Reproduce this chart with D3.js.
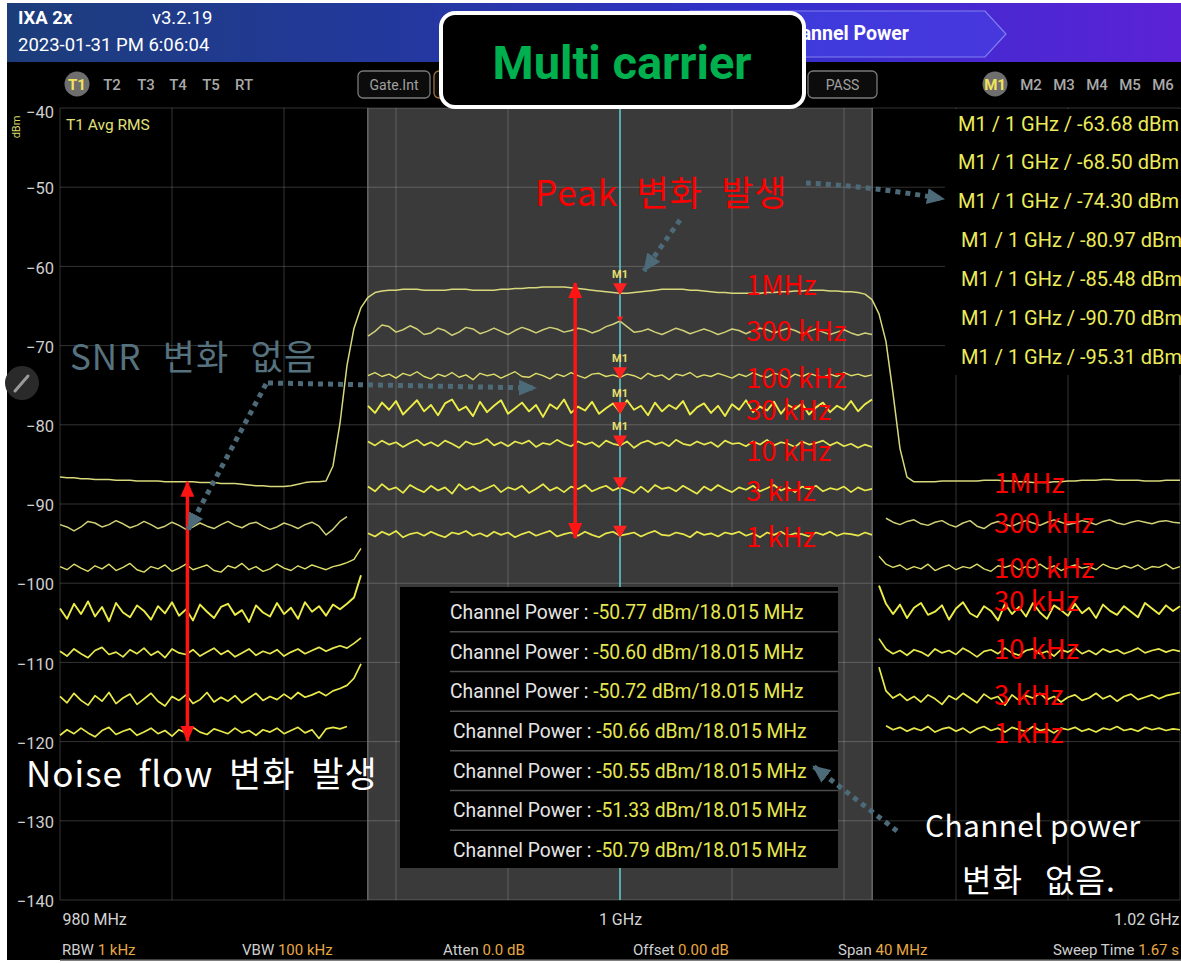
<!DOCTYPE html>
<html>
<head>
<meta charset="utf-8">
<script src="https://d3js.org/d3.v7.min.js"></script>
<style>
body { margin: 0; background: #fff; }
svg { display: block; }
text { font-family: Roboto, "Noto Sans", sans-serif; }
.kr { font-family: "Noto Sans CJK KR", "Noto Sans", sans-serif; }
</style>
</head>
<body>
<svg id="chart" width="1181" height="963"></svg>
<script>
// ---- data -------------------------------------------------------------
const freqStart = 980, freqStop = 1020, freqStep = 0.25;   // MHz, 161 sweep points
const chanCenter = 1000, chanWidth = 18.015;                 // MHz
const yTicks = [-40, -50, -60, -70, -80, -90, -100, -110, -120, -130, -140];
const xTicks = [980, 984, 988, 992, 996, 1000, 1004, 1008, 1012, 1016, 1020];
const xTickLabels = ["980 MHz", "1 GHz", "1.02 GHz"];

const rbwLabels = ["1MHz", "300 kHz", "100 kHz", "30 kHz", "10 kHz", "3 kHz", "1 kHz"];
const markerReadings = [-63.68, -68.50, -74.30, -80.97, -85.48, -90.70, -95.31];
const channelPowers = [-50.77, -50.60, -50.72, -50.66, -50.55, -51.33, -50.79];

const trace1M = [
  -86.6,-86.7,-86.7,-86.8,-86.8,-86.9,-86.9,-86.9,-87.0,-87.0,
  -87.0,-87.1,-87.1,-87.1,-87.1,-87.2,-87.2,-87.2,-87.2,-87.2,
  -87.3,-87.3,-87.3,-87.4,-87.4,-87.4,-87.5,-87.6,-87.7,-87.7,
  -87.8,-87.8,-87.8,-87.7,-87.5,-87.3,-87.2,-87.2,
  -87.1,-85.2,-79.8,-72.5,-67.8,-65.2,-63.9,-63.3,
  -63.1,-63.0,-63.0,-62.9,-62.9,-62.9,-63.0,-63.0,-63.0,-63.0,-62.9,-62.9,-62.9,-63.0,-63.0,
  -63.0,-63.0,-62.9,-62.9,-62.8,-62.8,-62.7,-62.7,-62.6,-62.6,-62.6,-62.6,-62.7,-62.8,-62.9,
  -63.0,-63.1,-63.2,-63.3,-63.4,-63.4,-63.3,-63.2,-63.1,-63.0,-62.9,-62.9,-62.9,-62.9,-63.0,
  -63.0,-63.1,-63.2,-63.3,-63.3,-63.4,-63.4,-63.4,-63.4,-63.4,-63.3,-63.3,-63.2,-63.2,-63.1,
  -63.1,-63.0,-63.0,-63.0,-63.1,-63.1,-63.2,-63.2,-63.3,-63.5,
  -64.2,-66.0,-69.5,-76.0,-83.0,-86.6,-87.2,
  -87.2,-87.2,-87.2,-87.1,-87.1,-87.1,-87.1,-87.1,-87.1,-87.0,
  -87.0,-87.0,-87.1,-87.1,-87.2,-87.2,-87.3,-87.3,-87.3,-87.2,
  -87.2,-87.1,-87.1,-87.0,-87.0,-87.0,-86.9,-86.9,-87.0,-87.0,
  -87.0,-87.0,-87.1,-87.1,-87.1,-87.0,-87.0,-87.0
];

const trace300k = [
  -92.6,-92.9,-93.4,-92.9,-92.2,-92.4,-92.9,-92.6,-92.1,-92.5,
  -93.0,-92.7,-92.2,-92.6,-93.1,-92.8,-92.3,-92.7,-93.2,-92.9,
  -92.4,-92.8,-93.1,-92.6,-92.2,-92.7,-93.0,-92.5,-92.3,-92.8,
  -93.2,-92.9,-92.4,-92.7,-93.1,-92.6,-92.3,-92.8,-93.9,-93.2,
  -92.2,-91.6,null,null,
  -68.8,-68.2,-67.4,-67.6,-68.3,-68.0,-67.5,-67.9,-68.6,-68.4,
  -67.8,-68.1,-68.7,-68.3,-67.7,-67.9,-68.5,-68.2,-67.8,-68.2,
  -68.6,-68.1,-67.7,-68.0,-68.4,-68.0,-67.7,-67.9,-68.3,-68.1,
  -67.8,-68.0,-68.4,-68.1,-67.6,-67.3,-66.9,-67.6,-68.3,-68.2,
  -67.9,-68.3,-68.6,-68.2,-67.8,-68.1,-68.5,-68.2,-67.9,-68.2,
  -68.6,-68.3,-67.9,-68.1,-68.5,-68.1,-67.8,-68.0,-68.4,-68.1,
  -67.8,-68.1,-68.5,-68.2,-67.9,-68.3,-68.6,-68.3,-68.0,-68.4,
  -68.7,-68.4,-68.6,
  null,
  -91.8,-92.3,-92.6,-92.2,-92.0,-92.5,-92.7,-92.3,-92.1,-92.6,
  -92.9,-92.4,-92.1,-92.8,-93.1,-92.5,-92.2,-92.6,-92.8,-92.4,
  -92.1,-92.4,-92.7,-92.3,-92.0,-92.3,-92.6,-92.4,-92.1,-92.3,
  -92.6,-92.2,-92.0,-92.4,-92.6,-92.3,-92.1,-92.3,-92.5,-92.2,
  -92.1,-92.3,-92.4
];

const trace100k = [
  -97.9,-98.3,-97.6,-98.1,-98.5,-97.8,-98.2,-97.6,-98.4,-98.0,
  -97.5,-98.3,-98.6,-97.9,-98.2,-97.7,-98.5,-98.1,-97.6,-98.3,
  -98.0,-97.7,-98.4,-98.6,-97.8,-98.1,-97.5,-98.3,-97.9,-98.5,
  -98.2,-97.6,-98.1,-98.4,-97.8,-98.2,-97.7,-98.0,-98.3,-97.9,
  -97.7,-97.4,-97.0,-95.6,
  -73.8,-73.4,-73.9,-73.6,-74.1,-73.5,-73.8,-73.3,-73.9,-74.2,
  -73.6,-73.9,-73.4,-74.0,-73.7,-74.3,-73.5,-73.8,-73.6,-74.1,
  -73.7,-73.3,-73.9,-74.0,-73.5,-73.8,-74.2,-73.6,-73.9,-73.4,
  -73.8,-74.1,-73.6,-73.5,-73.9,-73.7,-74.0,-73.6,-73.8,-74.2,
  -73.5,-73.9,-73.7,-74.3,-73.6,-73.8,-73.4,-74.0,-73.7,-73.9,
  -73.5,-73.8,-74.1,-73.6,-73.9,-73.4,-73.8,-74.0,-73.5,-73.7,
  -74.2,-73.6,-73.9,-73.5,-73.8,-74.0,-73.6,-73.9,-73.4,-73.8,
  -73.6,-73.9,-73.7,
  -96.6,-97.6,-98.0,-97.7,-98.3,-97.9,-98.2,-97.6,-98.4,-98.0,
  -97.7,-98.3,-97.9,-98.1,-97.6,-98.2,-98.5,-97.8,-98.0,-97.7,
  -98.3,-97.9,-98.1,-97.6,-98.2,-97.8,-98.4,-98.0,-97.7,-98.1,
  -97.9,-98.3,-97.6,-98.0,-98.2,-97.8,-98.1,-97.7,-98.3,-97.9,
  -98.0,-97.6,-98.2,-97.9
];

const trace30k = [
  -103.2,-104.5,-102.6,-103.9,-102.3,-104.2,-103.0,-104.8,-102.5,-103.7,
  -104.3,-102.8,-103.5,-104.6,-102.9,-103.8,-102.4,-104.1,-103.3,-104.7,
  -102.7,-103.6,-104.4,-103.0,-102.6,-104.0,-103.4,-104.9,-102.8,-103.7,
  -104.2,-102.5,-103.9,-103.1,-104.5,-102.4,-103.6,-102.9,-104.1,-102.7,
  -103.3,-102.6,-101.8,-99.0,
  -77.6,-78.5,-77.2,-78.1,-77.0,-78.7,-77.8,-76.9,-78.3,-77.5,
  -78.8,-77.3,-76.8,-78.2,-77.7,-78.9,-77.1,-78.4,-77.6,-76.9,
  -78.6,-77.9,-77.2,-78.3,-77.5,-79.0,-77.4,-78.0,-76.8,-78.5,
  -77.7,-78.2,-77.1,-78.6,-77.9,-77.3,-78.4,-76.9,-78.1,-77.6,
  -78.8,-77.2,-78.3,-77.5,-78.0,-77.0,-78.7,-77.8,-77.3,-78.5,
  -77.6,-78.9,-77.4,-78.1,-76.9,-78.4,-77.7,-78.2,-77.1,-78.6,
  -77.5,-78.0,-77.3,-78.7,-77.8,-77.2,-78.4,-77.6,-78.1,-77.0,
  -78.3,-77.4,-76.8,
  -100.3,-102.6,-103.9,-102.7,-104.4,-103.1,-102.5,-104.0,-103.6,-102.8,
  -104.6,-103.2,-102.4,-103.8,-104.3,-102.9,-103.5,-104.7,-102.6,-103.9,
  -103.0,-104.2,-102.5,-103.7,-104.5,-102.8,-103.4,-104.1,-102.6,-103.8,
  -103.1,-104.4,-102.7,-103.5,-104.0,-102.9,-103.6,-104.3,-102.5,-103.2,
  -103.9,-102.8,-103.5,-102.9
];

const trace10k = [
  -108.6,-109.2,-108.3,-108.9,-109.4,-108.5,-108.1,-109.0,-108.7,-109.3,
  -108.4,-108.9,-108.2,-109.1,-108.6,-109.4,-108.3,-108.8,-109.0,-108.4,
  -109.2,-108.7,-108.2,-109.0,-108.5,-109.3,-108.8,-108.3,-109.1,-108.6,
  -108.9,-108.4,-109.2,-108.7,-108.3,-108.9,-108.5,-108.1,-108.6,-108.2,
  -107.9,-108.2,-107.6,-106.9,
  -82.1,-82.6,-82.0,-82.5,-82.2,-82.8,-82.3,-81.9,-82.6,-82.2,
  -82.7,-82.0,-82.4,-82.9,-82.1,-82.5,-82.3,-81.8,-82.6,-82.2,
  -82.7,-82.1,-82.4,-82.0,-82.8,-82.3,-82.5,-81.9,-82.4,-82.7,
  -82.1,-82.5,-82.2,-82.8,-82.0,-82.4,-82.6,-82.1,-82.9,-82.3,
  -82.0,-82.5,-82.2,-82.7,-81.9,-82.4,-82.6,-82.1,-82.5,-82.2,
  -82.8,-82.0,-82.4,-82.3,-82.7,-82.1,-82.5,-81.9,-82.6,-82.2,
  -82.4,-82.8,-82.1,-82.5,-82.3,-82.0,-82.6,-82.2,-82.7,-82.4,
  -82.9,-82.5,-82.8,
  -107.0,-108.3,-108.9,-108.5,-109.1,-108.4,-108.7,-109.2,-108.3,-108.8,
  -108.5,-109.0,-108.2,-108.7,-109.3,-108.6,-108.4,-108.9,-108.2,-108.8,
  -109.1,-108.5,-108.3,-108.9,-108.6,-109.2,-108.4,-108.7,-108.2,-108.9,
  -108.5,-109.0,-108.3,-108.7,-108.4,-108.9,-108.6,-108.2,-108.8,-108.5,
  -108.3,-108.7,-108.4,-108.6
];

const trace3k = [
  -114.3,-115.1,-113.9,-114.8,-115.4,-114.2,-114.9,-113.8,-115.2,-114.5,
  -114.0,-115.3,-114.6,-113.9,-114.9,-115.5,-114.3,-114.8,-114.1,-115.2,
  -114.7,-113.8,-115.0,-114.4,-114.9,-114.2,-115.1,-114.5,-113.9,-114.8,
  -114.3,-114.7,-114.0,-114.6,-113.8,-114.4,-114.1,-113.7,-114.2,-113.6,
  -113.3,-112.9,-112.0,-110.2,
  -87.8,-88.4,-87.5,-88.2,-87.9,-88.6,-87.6,-88.1,-88.5,-87.7,
  -88.3,-87.9,-88.7,-87.5,-88.2,-87.8,-88.4,-88.0,-87.6,-88.5,
  -87.9,-88.2,-87.7,-88.6,-88.1,-87.5,-88.3,-87.9,-88.5,-87.8,
  -88.1,-87.6,-88.4,-88.0,-87.7,-88.3,-87.9,-88.2,-88.6,-87.8,
  -88.5,-87.6,-88.1,-87.9,-88.4,-87.7,-88.2,-88.7,-87.8,-88.3,
  -87.6,-88.1,-88.5,-87.9,-88.2,-87.7,-88.4,-88.0,-87.6,-88.3,
  -87.9,-88.5,-87.8,-88.1,-87.7,-88.4,-88.0,-88.2,-87.8,-88.5,
  -87.9,-88.3,-88.1,
  -110.6,-113.6,-114.5,-114.0,-114.8,-114.3,-115.0,-114.1,-114.6,-115.3,
  -114.2,-114.7,-113.9,-114.5,-115.1,-114.0,-114.6,-114.3,-115.4,-114.1,
  -114.8,-114.2,-114.5,-113.9,-114.7,-114.3,-115.0,-114.4,-114.1,-114.8,
  -114.5,-113.9,-114.6,-114.2,-114.9,-114.3,-114.0,-114.7,-114.4,-114.1,
  -114.6,-114.2,-114.0,-113.8
];

const trace1k = [
  -119.2,-118.5,-119.0,-118.3,-118.9,-119.4,-118.6,-118.2,-119.1,-118.7,
  -118.4,-119.2,-118.8,-118.3,-119.0,-118.6,-119.3,-118.5,-118.9,-118.2,
  -118.8,-119.1,-118.4,-118.7,-119.0,-118.3,-118.9,-118.6,-119.2,-118.5,
  -118.8,-118.3,-119.0,-118.6,-118.2,-118.9,-118.5,-119.6,-118.4,-118.2,
  -118.4,-118.1,null,null,
  -93.7,-94.1,-93.5,-93.9,-93.4,-94.2,-93.8,-93.6,-94.0,-93.5,
  -93.9,-94.2,-93.6,-93.8,-93.4,-94.0,-93.7,-94.1,-93.5,-93.9,
  -93.6,-94.2,-93.8,-93.5,-94.0,-93.7,-93.4,-94.1,-93.8,-93.6,
  -94.0,-93.5,-93.9,-94.2,-93.7,-93.5,-94.0,-93.8,-93.6,-94.1,
  -93.7,-93.4,-93.9,-94.0,-93.6,-93.8,-94.2,-93.5,-93.9,-93.7,
  -94.1,-93.6,-93.8,-93.5,-94.0,-93.7,-94.2,-93.6,-93.9,-93.5,
  -94.0,-93.7,-93.8,-94.1,-93.6,-93.9,-93.5,-94.0,-93.7,-93.8,
  -94.0,-93.6,-93.9,
  null,-118.0,-118.5,-118.2,-118.7,-118.3,-118.6,-118.1,-118.8,-118.4,
  -118.2,-118.7,-118.3,-118.9,-118.4,-118.1,-118.6,-118.3,-118.8,-118.2,
  -118.5,-118.7,-118.1,-118.6,-118.4,-118.9,-118.3,-118.5,-118.2,-118.7,
  -118.4,-118.8,-118.3,-118.5,-118.1,-118.6,-118.4,-118.7,-118.2,-118.5,
  -118.3,-118.6,-118.4,-118.5
];

// ---- setup ------------------------------------------------------------
const svg = d3.select("#chart");
const W = 1181, H = 963;
const plot = { left: 60, right: 1180, top: 108, bottom: 900 };

const x = d3.scaleLinear().domain([freqStart, freqStop]).range([plot.left, plot.right]);
const y = d3.scaleLinear().domain([-140, -40]).range([plot.bottom, plot.top]);

const defs = svg.append("defs");
const grad = defs.append("linearGradient").attr("id", "hdr").attr("x1", 0).attr("x2", 1);
grad.append("stop").attr("offset", "0%").attr("stop-color", "#1c3d7a");
grad.append("stop").attr("offset", "35%").attr("stop-color", "#2438a0");
grad.append("stop").attr("offset", "65%").attr("stop-color", "#3430cc");
grad.append("stop").attr("offset", "100%").attr("stop-color", "#5c22d6");

function arrowDef(id, color, len, wid, orient) {
  defs.append("marker").attr("id", id)
    .attr("markerUnits", "userSpaceOnUse")
    .attr("markerWidth", len).attr("markerHeight", wid)
    .attr("refX", len - 1).attr("refY", wid / 2)
    .attr("orient", orient)
    .append("path")
    .attr("d", `M0,0 L${len},${wid / 2} L0,${wid} Z`)
    .attr("fill", color);
}
arrowDef("ahSlate", "#4d6a78", 18, 16, "auto");
arrowDef("ahRed", "#ff1414", 16, 14, "auto-start-reverse");

svg.append("rect").attr("width", W).attr("height", H).attr("fill", "#fff");
svg.append("rect").attr("x", 7).attr("y", 3).attr("width", W - 7).attr("height", 957).attr("fill", "#000");

// ---- header -----------------------------------------------------------
svg.append("rect").attr("x", 7).attr("y", 3).attr("width", W - 7).attr("height", 59).attr("fill", "url(#hdr)");
svg.append("polygon")
  .attr("points", "690,11 985,11 1006,34 985,57 690,57")
  .attr("fill", "#4545e8").attr("fill-opacity", 0.55)
  .attr("stroke", "#8080f0").attr("stroke-width", 1.2);
svg.append("text").attr("x", 777).attr("y", 40).attr("fill", "#fff")
  .attr("font-size", 19.5).attr("font-weight", 700).text("Channel Power");

svg.append("text").attr("x", 18).attr("y", 24).attr("fill", "#fff")
  .attr("font-size", 18.5).attr("font-weight", 700).text("IXA 2x");
svg.append("text").attr("x", 152).attr("y", 24).attr("fill", "#fff")
  .attr("font-size", 18.5).text("v3.2.19");
svg.append("text").attr("x", 18).attr("y", 51).attr("fill", "#fff")
  .attr("font-size", 18.5).text("2023-01-31 PM 6:06:04");

// trace / marker selector rows
const tNames = ["T1", "T2", "T3", "T4", "T5", "RT"];
const tPos = [77, 112, 146, 178, 211, 244];
const mNames = ["M1", "M2", "M3", "M4", "M5", "M6"];
const mPos = [995, 1031, 1064, 1097, 1130, 1163];
function selector(names, pos) {
  names.forEach((n, i) => {
    if (i === 0) {
      svg.append("circle").attr("cx", pos[i]).attr("cy", 84).attr("r", 12.5).attr("fill", "#6e6e6e");
    }
    svg.append("text").attr("x", pos[i]).attr("y", 89.5).attr("text-anchor", "middle")
      .attr("font-size", 15).attr("font-weight", i === 0 ? 700 : 500)
      .attr("fill", i === 0 ? "#f2e35a" : "#a9a9a9").text(n);
  });
}
selector(tNames, tPos);
selector(mNames, mPos);

function button(x0, w, label, stroke) {
  svg.append("rect").attr("x", x0).attr("y", 71).attr("width", w).attr("height", 27)
    .attr("rx", 5).attr("fill", "#0c0c0c").attr("stroke", stroke).attr("stroke-width", 1.3);
  if (label) {
    svg.append("text").attr("x", x0 + w / 2).attr("y", 89.5).attr("text-anchor", "middle")
      .attr("font-size", 14).attr("fill", "#a0a0a0").text(label);
  }
}
button(358, 72, "Gate.Int", "#7a7a7a");
button(434, 60, null, "#a0703a");
button(808, 69, "PASS", "#7a7a7a");

// ---- plot area --------------------------------------------------------
const plotG = svg.append("g");
const bandL = x(chanCenter - chanWidth / 2), bandR = x(chanCenter + chanWidth / 2);
plotG.append("rect").attr("x", bandL).attr("y", plot.top)
  .attr("width", bandR - bandL).attr("height", plot.bottom - plot.top).attr("fill", "#3a3a3a");

plotG.selectAll(".hg").data(yTicks).join("line")
  .attr("x1", plot.left).attr("x2", plot.right)
  .attr("y1", d => y(d)).attr("y2", d => y(d))
  .attr("stroke", "#fff").attr("stroke-opacity", 0.2);
plotG.selectAll(".vg").data(xTicks).join("line")
  .attr("x1", d => x(d)).attr("x2", d => x(d))
  .attr("y1", plot.top).attr("y2", plot.bottom)
  .attr("stroke", "#fff").attr("stroke-opacity", 0.2);
[bandL, bandR].forEach(bx => {
  plotG.append("line").attr("x1", bx).attr("x2", bx).attr("y1", plot.top).attr("y2", plot.bottom)
    .attr("stroke", "#777").attr("stroke-width", 1.2);
});

// center frequency line
plotG.append("line").attr("x1", x(chanCenter)).attr("x2", x(chanCenter))
  .attr("y1", plot.top).attr("y2", plot.bottom)
  .attr("stroke", "#58c4c8").attr("stroke-width", 1.6);

// axes
const yAxis = svg.append("g").attr("transform", `translate(${plot.left},0)`)
  .call(d3.axisLeft(y).tickValues(yTicks).tickSize(0).tickPadding(6));
yAxis.select(".domain").remove();
yAxis.selectAll("text").attr("font-size", 16.5).attr("fill", "#cfcfcf")
  .attr("font-family", "Roboto, sans-serif")
  .attr("dy", d => d === -40 ? "0.55em" : "0.4em");

const xAxis = svg.append("g").attr("transform", `translate(0,${plot.bottom})`)
  .call(d3.axisBottom(x).tickValues([freqStart, chanCenter, freqStop]).tickSize(0).tickPadding(14)
    .tickFormat((d, i) => xTickLabels[i]));
xAxis.select(".domain").remove();
xAxis.selectAll("text").attr("font-size", 16).attr("fill", "#d4d4d4")
  .attr("font-family", "Roboto, sans-serif")
  .attr("text-anchor", (d, i) => i === 0 ? "start" : (i === 2 ? "end" : "middle"))
  .attr("dx", (d, i) => i === 0 ? 2 : (i === 2 ? -1 : 0));

svg.append("text").attr("transform", "translate(20,127) rotate(-90)")
  .attr("text-anchor", "middle").attr("font-size", 11).attr("fill", "#d8d86a").text("dBm");
svg.append("text").attr("x", 66).attr("y", 130).attr("font-size", 15.5)
  .attr("fill", "#e0e07a").text("T1 Avg RMS");

// ---- traces -----------------------------------------------------------
const traces = [
  { values: trace1M,   split: false, width: 1.5, color: "#d8d87c" },
  { values: trace300k, split: true,  width: 1.5, color: "#d0d078" },
  { values: trace100k, split: true,  width: 1.4, color: "#dede6a" },
  { values: trace30k,  split: true,  width: 1.9, color: "#eded48" },
  { values: trace10k,  split: true,  width: 1.7, color: "#e8e850" },
  { values: trace3k,   split: true,  width: 1.7, color: "#eaea4a" },
  { values: trace1k,   split: true,  width: 1.7, color: "#e8e84c" }
];
// first sweep point inside the channel and first point past it
const bandStartIdx = Math.ceil((chanCenter - chanWidth / 2 - freqStart) / freqStep);      // 44
const bandEndIdx = Math.floor((chanCenter + chanWidth / 2 - freqStart) / freqStep) + 1;   // 117
const line = d3.line()
  .defined(d => d.v != null)
  .x(d => x(d.f)).y(d => y(d.v));

const traceG = svg.append("g").attr("fill", "none").attr("stroke-linejoin", "round");
traces.forEach(t => {
  const pts = t.values.map((v, i) => ({
    f: freqStart + i * freqStep, v: v,
    s: !t.split ? 0 : (i < bandStartIdx ? 0 : (i < bandEndIdx ? 1 : 2))
  }));
  d3.groups(pts, d => d.s).forEach(([, seg]) => {
    traceG.append("path").attr("d", line(seg))
      .attr("stroke", t.color).attr("stroke-width", t.width);
  });
});

// markers at the center frequency
const centerIdx = Math.round((chanCenter - freqStart) / freqStep);
const mkG = svg.append("g");
traces.forEach((t, i) => {
  const cx = x(chanCenter), cy = y(t.values[centerIdx]);
  const s = i === 1 ? 0.45 : 1;
  mkG.append("path")
    .attr("d", `M${cx - 7 * s},${cy - 10 * s} L${cx + 7 * s},${cy - 10 * s} L${cx},${cy + 2 * s} Z`)
    .attr("fill", "#ff2020");
  if ([0, 2, 3, 4].includes(i)) {
    mkG.append("text").attr("x", cx).attr("y", cy - 15).attr("text-anchor", "middle")
      .attr("font-size", 11).attr("font-weight", 700).attr("fill", "#e8e070").text("M1");
  }
});

// ---- marker readout table --------------------------------------------
const mRows = d3.scaleBand().domain(d3.range(markerReadings.length)).range([104, 376]);
svg.append("rect").attr("x", 945).attr("y", plot.top + 1).attr("width", W - 945).attr("height", 266).attr("fill", "#000");
svg.selectAll(".mrow").data(markerReadings).join("text")
  .attr("x", (d, i) => i < 3 ? 958 : 961)
  .attr("y", (d, i) => mRows(i) + mRows.bandwidth() / 2)
  .attr("dy", "0.36em").attr("font-size", 20).attr("fill", "#ecec5a")
  .text(d => `M1 / 1 GHz / ${d.toFixed(2)} dBm`);

// ---- channel power table ---------------------------------------------
const cRows = d3.scaleBand().domain(d3.range(channelPowers.length)).range([592, 870]);
svg.append("rect").attr("x", 400).attr("y", 587).attr("width", 438).attr("height", 281).attr("fill", "#000");
svg.selectAll(".csep").data(channelPowers).join("line")
  .attr("x1", 450).attr("x2", 838)
  .attr("y1", (d, i) => cRows(i)).attr("y2", (d, i) => cRows(i))
  .attr("stroke", "#4a4a4a").attr("stroke-width", 1.5);
const cText = svg.selectAll(".crow").data(channelPowers).join("text")
  .attr("x", (d, i) => i < 3 ? 450 : 453)
  .attr("y", (d, i) => cRows(i) + cRows.bandwidth() / 2)
  .attr("dy", "0.36em").attr("font-size", 19.3);
cText.append("tspan").attr("fill", "#e6e6e6").text("Channel Power : ");
cText.append("tspan").attr("fill", "#e6e650").text(d => `${d.toFixed(2)} dBm/18.015 MHz`);

// ---- bottom settings bar ---------------------------------------------
const settings = [
  ["RBW ", "1 kHz", 62, "start"], ["VBW ", "100 kHz", 242, "start"], ["Atten ", "0.0 dB", 443, "start"],
  ["Offset ", "0.00 dB", 633, "start"], ["Span ", "40 MHz", 838, "start"], ["Sweep Time ", "1.67 s", 1179, "end"]
];
const sText = svg.selectAll(".set").data(settings).join("text")
  .attr("x", d => d[2]).attr("y", 955).attr("text-anchor", d => d[3]).attr("font-size", 15);
sText.append("tspan").attr("fill", "#cfcfcf").text(d => d[0]);
sText.append("tspan").attr("fill", "#e8a843").text(d => d[1]);
svg.append("line").attr("x1", 60).attr("x2", W).attr("y1", 960).attr("y2", 960)
  .attr("stroke", "#555").attr("stroke-width", 1.5);

// edit (pencil) button
svg.append("circle").attr("cx", 22).attr("cy", 383).attr("r", 17).attr("fill", "#2a2a2a");
svg.append("line").attr("x1", 15).attr("y1", 391).attr("x2", 28).attr("y2", 376)
  .attr("stroke", "#9a9a9a").attr("stroke-width", 3).attr("stroke-linecap", "round");

// ---- annotations ------------------------------------------------------
const ann = svg.append("g");

// title box
ann.append("rect").attr("x", 441).attr("y", 13).attr("width", 363).attr("height", 94)
  .attr("rx", 14).attr("fill", "#000").attr("stroke", "#fff").attr("stroke-width", 4);
ann.append("text").attr("x", 622).attr("y", 79).attr("text-anchor", "middle")
  .attr("font-family", "'Open Sans', sans-serif").attr("font-weight", 700)
  .attr("font-size", 47).attr("fill", "#00b04f").text("Multi carrier");

// red level-change arrows
ann.append("line")
  .attr("x1", x(998.4)).attr("x2", x(998.4)).attr("y1", y(-62.1)).attr("y2", y(-94.3))
  .attr("stroke", "#ff1414").attr("stroke-width", 3.5)
  .attr("marker-start", "url(#ahRed)").attr("marker-end", "url(#ahRed)");
ann.append("line")
  .attr("x1", x(984.55)).attr("x2", x(984.55)).attr("y1", y(-87.2)).attr("y2", y(-119.9))
  .attr("stroke", "#ff1414").attr("stroke-width", 3.5)
  .attr("marker-start", "url(#ahRed)").attr("marker-end", "url(#ahRed)");

// dotted callout arrows
const dotted = [
  "M806,183 Q868,186 944,199",
  "M680,220 L644,271",
  "M268,383 L536,388",
  "M266,384 L188,530",
  "M897,831 L813,766"
];
ann.selectAll(".dot").data(dotted).join("path")
  .attr("d", d => d).attr("fill", "none")
  .attr("stroke", "#4d6a78").attr("stroke-width", 5).attr("stroke-dasharray", "5,5")
  .attr("marker-end", "url(#ahSlate)");

// RBW labels next to each trace
const bandLabelY = [285, 331, 378, 410, 451, 491, 537];
const outLabelY = [483, 523, 568, 601, 649, 695, 733];
ann.selectAll(".lb1").data(rbwLabels).join("text").attr("class", "kr")
  .attr("x", 746).attr("y", (d, i) => bandLabelY[i]).attr("dy", "0.36em")
  .attr("font-size", 27.5).attr("fill", "#ff0000").text(d => d);
ann.selectAll(".lb2").data(rbwLabels).join("text").attr("class", "kr")
  .attr("x", 994).attr("y", (d, i) => outLabelY[i]).attr("dy", "0.36em")
  .attr("font-size", 27.5).attr("fill", "#ff0000").text(d => d);

// callout texts
const notes = [
  { t: "Peak 변화 발생", x: 535, y: 193, c: "#ff0000", s: 35, ls: 1, ws: 9.5 },
  { t: "SNR 변화 없음", x: 70, y: 357, c: "#56727f", s: 35, ls: 1, ws: 12.5 },
  { t: "Noise flow 변화 발생", x: 26, y: 774, c: "#ffffff", s: 35, ls: 1, ws: 7 },
  { t: "Channel power", x: 925, y: 826, c: "#ffffff", s: 30, ls: 0.3, ws: 0 },
  { t: "변화 없음.", x: 962, y: 880, c: "#ffffff", s: 32, ls: 1, ws: 14 }
];
ann.selectAll(".note").data(notes).join("text").attr("class", "kr")
  .attr("x", d => d.x).attr("y", d => d.y).attr("dy", "0.36em")
  .attr("letter-spacing", d => d.ls).attr("word-spacing", d => d.ws)
  .attr("font-size", d => d.s).attr("fill", d => d.c).text(d => d.t);
</script>
</body>
</html>
